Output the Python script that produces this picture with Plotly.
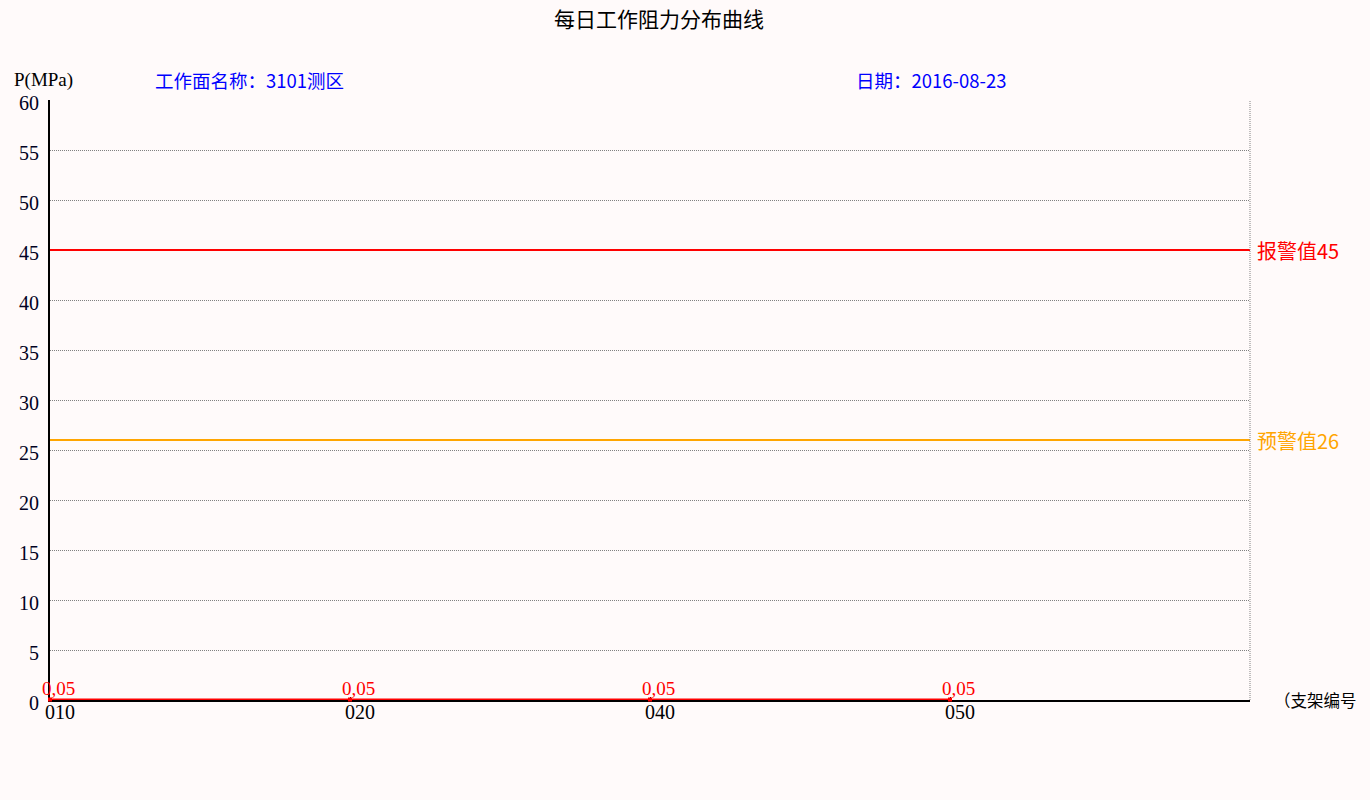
import plotly.graph_objects as go

# Data
supports = ["010", "020", "040", "050"]
pressure = [0.05, 0.05, 0.05, 0.05]
value_labels = ["0,05", "0,05", "0,05", "0,05"]
alarm_value = 45
warn_value = 26
y_ticks = list(range(0, 61, 5))

title_text = "每日工作阻力分布曲线"
face_name = "工作面名称：3101测区"
date_text = "日期：2016-08-23"
y_unit = "P(MPa)"
x_unit = "（支架编号"

BG = "#FFFAFA"
CJK = "Noto Sans CJK SC"
SERIF = "Liberation Serif, Noto Sans CJK SC"
DOT = "1px,1px"

xpos = list(range(len(supports)))

fig = go.Figure()
fig.add_trace(go.Scatter(
    x=xpos, y=pressure, mode="lines+markers",
    line=dict(color="#FF0000", width=2),
    marker=dict(color="#FF0000", size=4, symbol="square"),
    hoverinfo="skip", showlegend=False, cliponaxis=False,
))

# threshold lines
fig.add_shape(type="line", xref="paper", x0=0, x1=1, yref="y", y0=alarm_value, y1=alarm_value,
              line=dict(color="#FF0000", width=2))
fig.add_shape(type="line", xref="paper", x0=0, x1=1, yref="y", y0=warn_value, y1=warn_value,
              line=dict(color="#FFA500", width=2))
# right dotted border
fig.add_shape(type="line", xref="paper", x0=1, x1=1, yref="paper", y0=0, y1=1,
              line=dict(color="#808080", width=1, dash=DOT))

annotations = []
for xi, v, lab in zip(xpos, pressure, value_labels):
    annotations.append(dict(x=xi, y=v, xref="x", yref="y", text=lab, showarrow=False,
                            xanchor="center", yanchor="bottom", xshift=8, yshift=-1,
                            font=dict(family=SERIF, size=19, color="#FF0000")))
annotations += [
    dict(x=1.004, y=alarm_value, xref="paper", yref="y", text=f"报警值{alarm_value}", showarrow=False,
         xanchor="left", yanchor="middle", font=dict(family=CJK, size=20, color="#FF0000")),
    dict(x=1.004, y=warn_value, xref="paper", yref="y", text=f"预警值{warn_value}", showarrow=False,
         xanchor="left", yanchor="middle", font=dict(family=CJK, size=20, color="#FFA500")),
    dict(x=-0.0317, y=1.0333, xref="paper", yref="paper", text=y_unit, showarrow=False,
         xanchor="left", yanchor="middle", font=dict(family=SERIF, size=19, color="#000000")),
    dict(x=0.0858, y=1.0333, xref="paper", yref="paper", text=face_name, showarrow=False,
         xanchor="left", yanchor="middle", font=dict(family=CJK, size=18.5, color="#0000FF")),
    dict(x=0.67, y=1.0333, xref="paper", yref="paper", text=date_text, showarrow=False,
         xanchor="left", yanchor="middle", font=dict(family=CJK, size=18.5, color="#0000FF")),
    dict(x=1.018, y=0, xref="paper", yref="paper", text=x_unit, showarrow=False,
         xanchor="left", yanchor="middle", font=dict(family=CJK, size=16.5, color="#000000")),
]

fig.update_layout(
    width=1370, height=800,
    margin=dict(l=50, r=120, t=100, b=100),
    paper_bgcolor=BG, plot_bgcolor=BG,
    title=dict(text=title_text, x=0.481, xanchor="center", y=0.975, yanchor="middle",
               font=dict(family=CJK, size=21, color="#000000")),
    annotations=annotations,
    showlegend=False,
)
fig.update_xaxes(
    range=[0, 4], tickmode="array", tickvals=xpos, ticktext=supports,
    showgrid=False, zeroline=False, showline=True, linecolor="#000000", linewidth=2,
    ticks="inside", ticklen=3, tickcolor="#000000", ticklabelshift=10, ticklabelstandoff=-7,
    tickfont=dict(family=SERIF, size=20, color="#000000"), layer="below traces",
)
fig.update_yaxes(
    range=[0, 60], tickmode="array", tickvals=y_ticks,
    showgrid=True, gridcolor="#808080", griddash=DOT, gridwidth=1,
    zeroline=False, showline=True, linecolor="#000000", linewidth=2,
    ticks="", ticklabelstandoff=5, ticklabelshift=3,
    tickfont=dict(family=SERIF, size=20, color="#000022"), layer="below traces",
)

fig.write_html(
    "out.html",
    config={"displayModeBar": False},
    post_script="document.body.style.margin='0';document.body.style.background='#FFFAFA';",
)
